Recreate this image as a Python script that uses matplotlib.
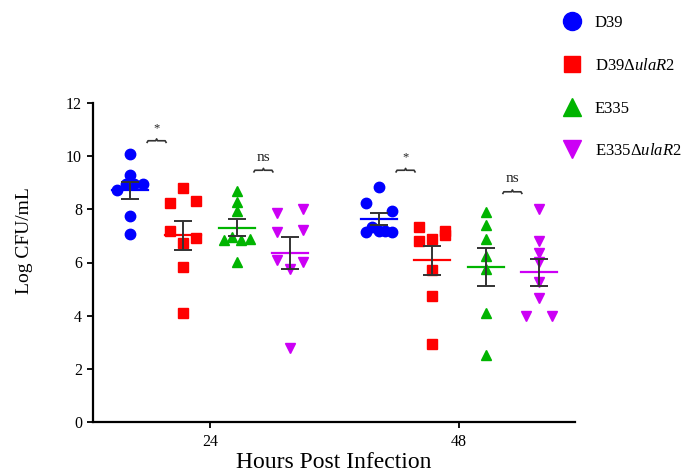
import matplotlib
matplotlib.use("Agg")
import matplotlib.pyplot as plt
from matplotlib.lines import Line2D
import numpy as np

plt.rcParams['font.family'] = ['Liberation Serif', 'DejaVu Serif']
plt.rcParams['mathtext.fontset'] = 'custom'
plt.rcParams['mathtext.rm'] = 'Liberation Serif'
plt.rcParams['mathtext.it'] = 'Liberation Serif:italic'

# data (Log CFU/mL)
timepoints = ['24', '48']
strains = ['D39', r'D39Δ$\mathit{ulaR2}$', 'E335', r'E335Δ$\mathit{ulaR2}$']
colors = ['#0000FF', '#FF0000', '#00B400', '#CC00F5']
markers = ['o', 's', '^', 'v']

d39_24 = [10.08, 9.29, 8.72, 8.95, 8.95, 8.95, 7.74, 7.06]
d39ula_24 = [8.82, 8.22, 8.32, 7.19, 6.74, 6.93, 5.82, 4.09]
e335_24 = [8.70, 8.28, 7.94, 6.84, 6.97, 6.84, 6.88, 6.03]
e335ula_24 = [7.87, 8.03, 7.15, 7.22, 6.09, 6.03, 5.74, 2.77]

d39_48 = [8.85, 8.22, 7.93, 7.15, 7.35, 7.20, 7.20, 7.15]
d39ula_48 = [7.34, 7.19, 6.82, 6.90, 7.03, 5.71, 4.74, 2.92]
e335_48 = [7.91, 7.41, 6.90, 6.24, 5.74, 4.11, 2.52]
e335ula_48 = [8.03, 6.82, 6.37, 6.03, 5.27, 4.65, 3.98, 3.98]

groups = [[d39_24, d39ula_24, e335_24, e335ula_24],
          [d39_48, d39ula_48, e335_48, e335ula_48]]

# significance marks: (timepoint, strain a, strain b, label, bracket height)
sig_marks = [(0, 0, 1, '*', 10.58), (0, 2, 3, 'ns', 9.47),
             (1, 0, 1, '*', 9.47), (1, 2, 3, 'ns', 8.66)]

group_step = 0.2145
spread = 0.052      # half width of a row of points
row_tol = 0.3


def swarm_offsets(vals):
    vals = np.asarray(vals)
    offs = np.zeros(len(vals))
    order = np.argsort(-vals, kind='stable')
    rows = []
    for i in order:
        if rows and vals[rows[-1][0]] - vals[i] < row_tol:
            rows[-1].append(i)
        else:
            rows.append([i])
    for r in rows:
        if len(r) > 1:
            r = sorted(r)
            offs[r] = np.linspace(-spread, spread, len(r))
    return offs


fig = plt.figure(figsize=(6.86, 4.76), dpi=100)
ax = fig.add_axes([93 / 686, 54 / 476, 482 / 686, 319 / 476])

for t, tgroups in enumerate(groups):
    for s, vals in enumerate(tgroups):
        xc = t + (s - 1.5) * group_step
        vals = np.asarray(vals)
        ax.plot(xc + swarm_offsets(vals), vals, linestyle='none',
                marker=markers[s], color=colors[s],
                markersize=7.5 if markers[s] != 's' else 6.6, zorder=2)
        m = vals.mean()
        sem = vals.std(ddof=1) / np.sqrt(len(vals))
        ax.plot([xc - 0.072, xc + 0.072], [m, m], color=colors[s], lw=1.6, zorder=3)
        ax.errorbar([xc], [m], yerr=[sem], fmt='none', ecolor='#333333',
                    elinewidth=1.4, capsize=6.5, capthick=1.4, zorder=4)

for t, a, b, lab, h in sig_marks:
    xc = t + ((a + b) / 2 - 1.5) * group_step
    w = 0.038
    dx = 0.1 * w
    ax.plot([xc - w, xc - w + dx, xc - dx, xc, xc + dx, xc + w - dx, xc + w],
            [h - 0.06, h, h, h + 0.07, h, h, h - 0.06],
            color='#333333', lw=1.2, zorder=3, clip_on=False)
    ax.text(xc, h + 0.25, lab, ha='center', va='bottom',
            fontsize=9 if lab == '*' else 11, color='#222222')

ax.set_xlim(-0.47, 1.466)
ax.set_ylim(0, 12)
ax.set_xticks(range(len(timepoints)))
ax.set_xticklabels(timepoints)
ax.set_yticks(range(0, 13, 2))
ax.tick_params(axis='both', labelsize=11.5, length=4, width=1.3, direction='out')
ax.tick_params(axis='x', pad=5)
ax.tick_params(axis='y', pad=4)
for side in ['top', 'right']:
    ax.spines[side].set_visible(False)
for side in ['left', 'bottom']:
    ax.spines[side].set_linewidth(1.6)

ax.set_ylabel('Log CFU/mL', fontsize=14)
ax.yaxis.set_label_coords(-0.125, 0.57)
ax.set_xlabel('Hours Post Infection', fontsize=17)
ax.xaxis.set_label_coords(0.5, -0.095)

handles = [Line2D([], [], linestyle='none', marker=markers[s], color=colors[s],
                  markersize=13 if markers[s] != 's' else 11.5)
           for s in range(len(strains))]
fig.legend(handles, strains, loc='upper left', bbox_to_anchor=(0.81, 0.982),
           frameon=False, fontsize=12, labelspacing=1.6, handlelength=1.2,
           handletextpad=0.75, borderaxespad=0)

fig.savefig('out.png', dpi=100)
